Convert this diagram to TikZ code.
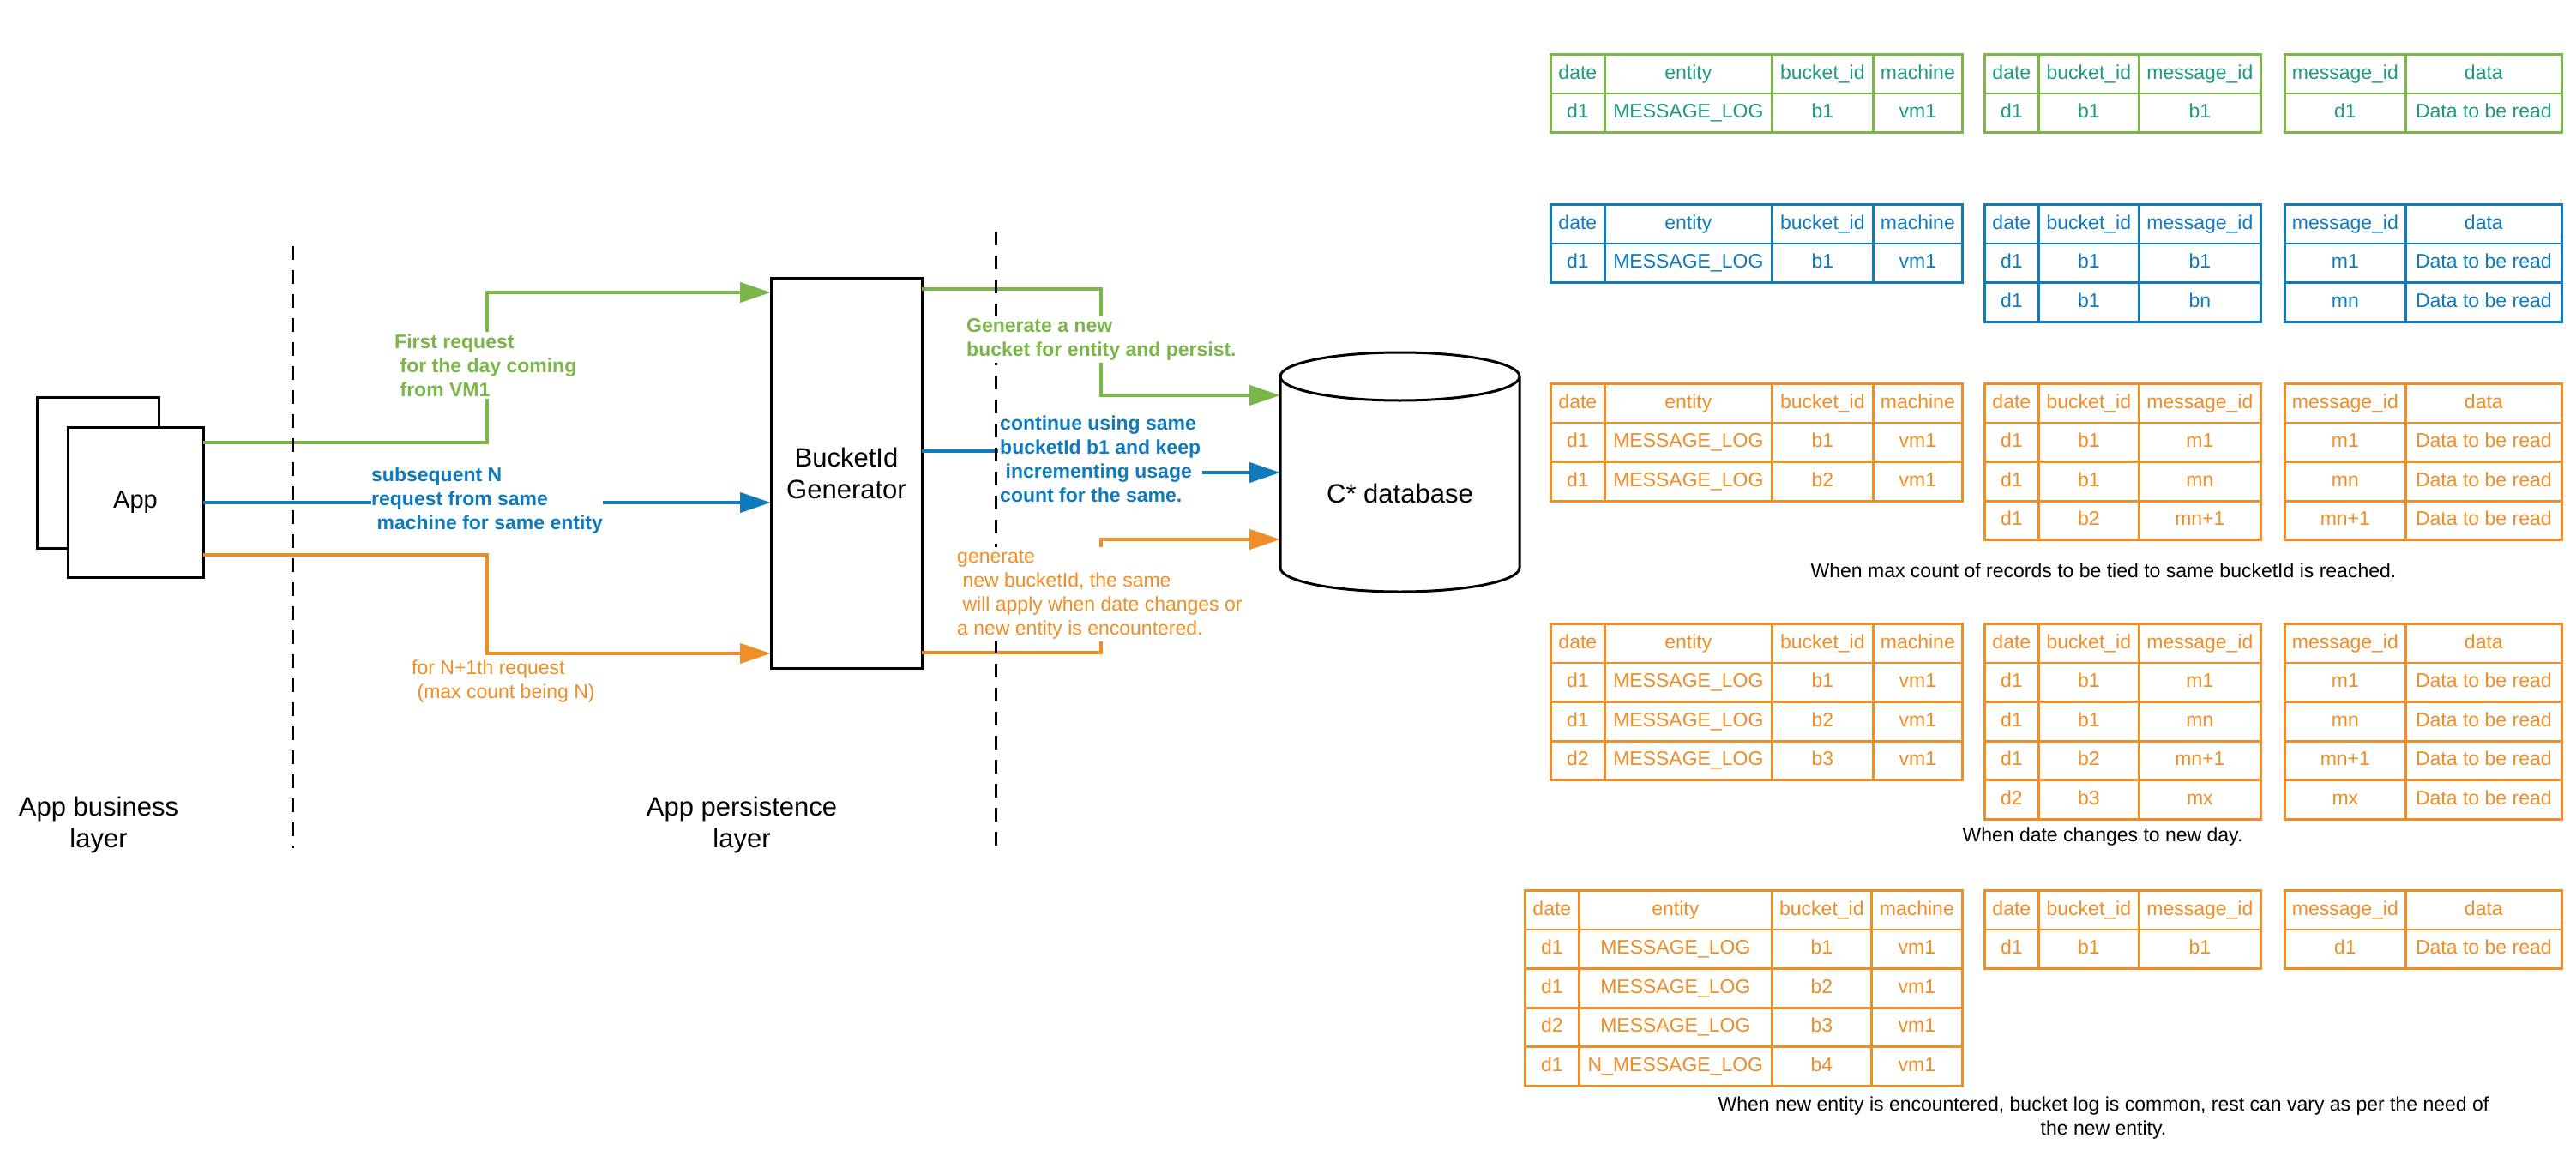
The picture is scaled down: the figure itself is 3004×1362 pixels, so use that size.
\documentclass[tikz,border=0pt]{standalone}
\usepackage{fontspec}
\setmainfont{Liberation Sans}
\usetikzlibrary{arrows.meta,matrix}
\definecolor{grn}{HTML}{7AB648}
\definecolor{grntxt}{HTML}{1F9A7D}
\definecolor{blu}{HTML}{0F7BBD}
\definecolor{org}{HTML}{EF8E26}
\newcommand\fsm{\fontsize{23}{28}\selectfont}
\newcommand\fapp{\fontsize{29}{35}\selectfont}
\newcommand\flg{\fontsize{31}{37}\selectfont}
\newcommand\ind{\hspace*{6.4pt}}
\begin{document}
\begin{tikzpicture}[x=1pt,y=-1pt,
  box/.style={draw,line width=3pt,fill=white,inner sep=0pt,outer sep=0pt},
  edge/.style={line width=4.5pt,-{Triangle[length=36pt,width=23pt]}},
  divider/.style={line width=3pt,dash pattern=on 16pt off 12pt},
  lbl/.style={font=\fsm,align=left,anchor=west,inner xsep=1pt,inner ysep=3pt},
  captxt/.style={font=\fsm,align=center,inner sep=0pt},
  cell/.style={line width=2.7pt,minimum height=45.6pt,inner sep=1pt,outer sep=0pt,
    anchor=center,text height=17pt,text depth=5pt,font=\fsm},
  tbl/.style 2 args={matrix of nodes,inner sep=0pt,outer sep=0pt,column sep=-2.7pt,
    row sep=-2.7pt,anchor=north west,nodes={cell,draw=#1,text=#2}},
  ta/.style={column 1/.style={nodes={minimum width=63pt}},
    column 2/.style={nodes={minimum width=195pt}},
    column 3/.style={nodes={minimum width=118pt}},
    column 4/.style={nodes={minimum width=104pt}}},
  tw/.style={column 1/.style={nodes={minimum width=63pt}},
    column 2/.style={nodes={minimum width=225pt}},
    column 3/.style={nodes={minimum width=116pt}},
    column 4/.style={nodes={minimum width=106pt}}},
  tb/.style={column 1/.style={nodes={minimum width=63pt}},
    column 2/.style={nodes={minimum width=117pt}},
    column 3/.style={nodes={minimum width=142pt}}},
  tc/.style={column 1/.style={nodes={minimum width=141pt}},
    column 2/.style={nodes={minimum width=182pt}}}
]
\fill[white] (0,0) rectangle (3004,1362);
\useasboundingbox (0,0) rectangle (3004,1362);

% left side boxes
\node[box,minimum width=142pt,minimum height=176pt] (appback) at (114,551) {};
\node[box,minimum width=158pt,minimum height=175pt,font=\fapp] (app) at (158,585.5) {App};
\node[box,minimum width=176pt,minimum height=455pt,font=\flg,align=center] (bid) at (987,551.5) {BucketId\\Generator};

% cylinder
\path[draw,line width=3pt,fill=white] (1493,439) -- (1493,662)
  arc[start angle=180,end angle=360,x radius=139.5pt,y radius=28pt] -- (1772,439)
  arc[start angle=0,end angle=180,x radius=139.5pt,y radius=28pt] -- cycle;
\draw[line width=3pt] (1493,439) arc[start angle=180,end angle=360,x radius=139.5pt,y radius=28pt];
\node[inner sep=0pt,outer sep=0pt,minimum width=279pt,minimum height=230pt,font=\flg] (db) at (1632.5,575) {C* database};

% connectors
\draw[edge,grn] (app.east |- 0,516) -| (568,341) -- (bid.west |- 0,341);
\draw[edge,blu] (app.east |- 0,586) -- (bid.west |- 0,586);
\draw[edge,org] (app.east |- 0,647) -| (568,762) -- (bid.west |- 0,762);
\draw[edge,grn] (bid.east |- 0,337) -| (1284,461) -- (db.west |- 0,461);
\draw[edge,blu] (bid.east |- 0,526) -| (1284,551) -- (db.west |- 0,551);
\draw[edge,org] (bid.east |- 0,761) -| (1284,629) -- (db.west |- 0,629);

% dividers
\draw[divider] (341,287) -- (341,989);
\draw[divider] (1161,270) -- (1161,989);

% labels
\node[lbl,fill=white,text=grn,font=\fsm\bfseries] (l1) at (459,426) {First request\\\ind for the day coming\\\ind from VM1};
\node[lbl,fill=white,text=blu,font=\fsm\bfseries,inner xsep=0pt] (l2) at (433,584) {subsequent N\\request from same\\\ind machine for same entity};
\node[lbl,text=org] (l3) at (479,795) {for N+1th request\\\ind (max count being N)};
\node[lbl,fill=white,text=grn,font=\fsm\bfseries] (l4) at (1126,396) {Generate a new\\bucket for entity and persist.};
\node[lbl,fill=white,text=blu,font=\fsm\bfseries,inner xsep=2pt] (l5) at (1164,535.5) {continue using same\\bucketId b1 and keep\\\ind incrementing usage\\count for the same.};
\node[lbl,fill=white,text=org] (l6) at (1115,693) {generate\\\ind new bucketId, the same\\\ind will apply when date changes or\\a new entity is encountered.};

\node[font=\flg,align=center,inner sep=0pt] (layer1) at (115,962) {App business\\layer};
\node[font=\flg,align=center,inner sep=0pt] (layer2) at (865,962) {App persistence\\layer};

% green tables
\matrix[tbl={grn}{grntxt},ta] (g1) at (1807,62) {
 date & entity & bucket\_id & machine \\
 d1 & MESSAGE\_LOG & b1 & vm1 \\
};
\matrix[tbl={grn}{grntxt},tb] (g2) at (2313,62) {
 date & bucket\_id & message\_id \\
 d1 & b1 & b1 \\
};
\matrix[tbl={grn}{grntxt},tc] (g3) at (2663,62) {
 message\_id & data \\
 d1 & Data to be read \\
};

% blue tables
\matrix[tbl={blu}{blu},ta] (b1) at (1807,237) {
 date & entity & bucket\_id & machine \\
 d1 & MESSAGE\_LOG & b1 & vm1 \\
};
\matrix[tbl={blu}{blu},tb] (b2) at (2313,237) {
 date & bucket\_id & message\_id \\
 d1 & b1 & b1 \\
 d1 & b1 & bn \\
};
\matrix[tbl={blu}{blu},tc] (b3) at (2663,237) {
 message\_id & data \\
 m1 & Data to be read \\
 mn & Data to be read \\
};

% orange tables A
\matrix[tbl={org}{org},ta] (a1) at (1807,446) {
 date & entity & bucket\_id & machine \\
 d1 & MESSAGE\_LOG & b1 & vm1 \\
 d1 & MESSAGE\_LOG & b2 & vm1 \\
};
\matrix[tbl={org}{org},tb] (a2) at (2313,446) {
 date & bucket\_id & message\_id \\
 d1 & b1 & m1 \\
 d1 & b1 & mn \\
 d1 & b2 & mn+1 \\
};
\matrix[tbl={org}{org},tc] (a3) at (2663,446) {
 message\_id & data \\
 m1 & Data to be read \\
 mn & Data to be read \\
 mn+1 & Data to be read \\
};
\node[captxt] (capA) at (2453,665) {When max count of records to be tied to same bucketId is reached.};

% orange tables B
\matrix[tbl={org}{org},ta] (c1) at (1807,726) {
 date & entity & bucket\_id & machine \\
 d1 & MESSAGE\_LOG & b1 & vm1 \\
 d1 & MESSAGE\_LOG & b2 & vm1 \\
 d2 & MESSAGE\_LOG & b3 & vm1 \\
};
\matrix[tbl={org}{org},tb] (c2) at (2313,726) {
 date & bucket\_id & message\_id \\
 d1 & b1 & m1 \\
 d1 & b1 & mn \\
 d1 & b2 & mn+1 \\
 d2 & b3 & mx \\
};
\matrix[tbl={org}{org},tc] (c3) at (2663,726) {
 message\_id & data \\
 m1 & Data to be read \\
 mn & Data to be read \\
 mn+1 & Data to be read \\
 mx & Data to be read \\
};
\node[captxt] (capB) at (2452,976) {When date changes to new day.};

% orange tables C
\matrix[tbl={org}{org},tw] (e1) at (1777,1037) {
 date & entity & bucket\_id & machine \\
 d1 & MESSAGE\_LOG & b1 & vm1 \\
 d1 & MESSAGE\_LOG & b2 & vm1 \\
 d2 & MESSAGE\_LOG & b3 & vm1 \\
 d1 & N\_MESSAGE\_LOG & b4 & vm1 \\
};
\matrix[tbl={org}{org},tb] (e2) at (2313,1037) {
 date & bucket\_id & message\_id \\
 d1 & b1 & b1 \\
};
\matrix[tbl={org}{org},tc] (e3) at (2663,1037) {
 message\_id & data \\
 d1 & Data to be read \\
};
\node[captxt] (capC) at (2453,1304) {When new entity is encountered, bucket log is common, rest can vary as per the need of\\the new entity.};
\end{tikzpicture}
\end{document}
